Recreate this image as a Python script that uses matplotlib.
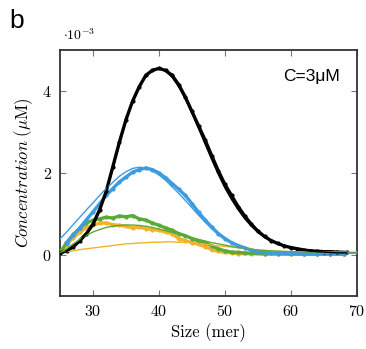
import matplotlib
matplotlib.use("Agg")
import matplotlib.pyplot as plt
import numpy as np

plt.rcParams['font.family'] = ['cmr10', 'DejaVu Serif']
plt.rcParams['mathtext.fontset'] = 'cm'
plt.rcParams['axes.formatter.use_mathtext'] = True

# ---- data (units of 1e-3 uM) ----
x_black = [25, 26, 27, 28, 29, 30, 31, 32, 33, 34, 35, 36, 37, 38, 39, 40, 41, 42, 43, 44,
           45, 46, 47, 48, 49, 50, 51, 52, 53, 54, 55, 56, 57, 58, 59, 60, 61, 62, 63, 64,
           65, 66, 67, 68.5]
y_black = [0.05, 0.1, 0.2, 0.35, 0.52, 0.75, 1.1, 1.55, 2.15, 2.75, 3.3, 3.75, 4.1, 4.38, 4.5, 4.55, 4.5, 4.38, 4.15, 3.85,
           3.5, 3.15, 2.8, 2.42, 2.05, 1.72, 1.45, 1.18, 0.95, 0.75, 0.58, 0.45, 0.35, 0.28, 0.22, 0.18, 0.15, 0.12, 0.1, 0.09,
           0.08, 0.08, 0.07, 0.06]
y_black_fit = [0.03, 0.08, 0.18, 0.33, 0.52, 0.78, 1.12, 1.55, 2.1, 2.7, 3.27, 3.75, 4.12, 4.38, 4.52, 4.55, 4.48, 4.33, 4.1, 3.8,
               3.45, 3.08, 2.7, 2.32, 1.96, 1.63, 1.35, 1.1, 0.88, 0.7, 0.55, 0.43, 0.34, 0.27, 0.21, 0.17, 0.14, 0.11, 0.09, 0.08,
               0.07, 0.06, 0.05, 0.05]

x_blue = [26, 27, 28, 29, 30, 31, 32, 33, 34, 35, 36, 37, 38, 39, 40, 41, 42, 43, 44,
          45, 46, 47, 48, 49, 50, 51, 52, 53, 54, 55, 56, 57, 58, 60, 62, 64, 66, 68]
y_blue = [0.3, 0.48, 0.66, 0.86, 1.05, 1.25, 1.45, 1.62, 1.78, 1.9, 2.02, 2.08, 2.12, 2.08, 2.0, 1.88, 1.74, 1.6, 1.45,
          1.25, 1.04, 0.85, 0.68, 0.52, 0.4, 0.3, 0.23, 0.17, 0.12, 0.08, 0.06, 0.05, 0.04, 0.04, 0.03, 0.03, 0.03, 0.03]
x_fit = [25, 26, 27, 28, 29, 30, 31, 32, 33, 34, 35, 36, 37, 38, 39, 40, 41, 42, 43, 44,
         45, 46, 47, 48, 49, 50, 51, 52, 53, 54, 55, 56, 57, 58, 60, 62, 64, 66, 68, 70]
y_blue_fit = [0.39, 0.56, 0.74, 0.92, 1.1, 1.27, 1.45, 1.62, 1.77, 1.92, 2.03, 2.11, 2.14, 2.12, 2.05, 1.95, 1.82, 1.66, 1.5, 1.33,
              1.15, 0.97, 0.8, 0.64, 0.5, 0.38, 0.29, 0.22, 0.16, 0.12, 0.09, 0.07, 0.06, 0.05, 0.05, 0.04, 0.04, 0.04, 0.04, 0.04]

x_green = [25, 26, 27, 28, 29, 30, 31, 32, 33, 34, 35, 36, 37, 38, 39, 40, 41, 42, 43, 44,
           45, 46, 47, 48, 49, 50, 51, 52, 53, 54, 56, 58, 60, 62, 64, 66, 68]
y_green = [0.05, 0.3, 0.5, 0.65, 0.78, 0.85, 0.88, 0.92, 0.9, 0.95, 0.93, 0.96, 0.88, 0.85, 0.78, 0.72, 0.66, 0.6, 0.52, 0.47,
           0.4, 0.34, 0.3, 0.22, 0.15, 0.1, 0.07, 0.06, 0.05, 0.04, 0.03, 0.03, 0.02, 0.02, 0.02, 0.02, 0.02]
y_green_fit = [0.05, 0.15, 0.27, 0.38, 0.48, 0.56, 0.62, 0.67, 0.7, 0.72, 0.73, 0.73, 0.72, 0.7, 0.67, 0.63, 0.59, 0.55, 0.5, 0.46,
               0.42, 0.38, 0.34, 0.3, 0.27, 0.24, 0.21, 0.18, 0.16, 0.14, 0.12, 0.11, 0.1, 0.09, 0.08, 0.07, 0.06, 0.06, 0.05, 0.05]

x_orange = [25, 26, 27, 28, 29, 30, 31, 32, 33, 34, 35, 36, 37, 38, 39, 40, 41, 42, 43, 44,
            45, 46, 47, 48, 49, 50, 51, 52, 54, 56, 58, 60, 62, 64, 66, 68]
y_orange = [0.08, 0.25, 0.42, 0.55, 0.67, 0.72, 0.78, 0.78, 0.74, 0.72, 0.7, 0.66, 0.68, 0.64, 0.62, 0.6, 0.56, 0.52, 0.4, 0.35,
            0.3, 0.26, 0.2, 0.13, 0.09, 0.06, 0.05, 0.03, 0.03, 0.02, 0.02, 0.02, 0.02, 0.02, 0.02, 0.02]
y_orange_fit = [0.05, 0.08, 0.1, 0.13, 0.15, 0.17, 0.19, 0.21, 0.23, 0.25, 0.27, 0.28, 0.29, 0.3, 0.31, 0.31, 0.32, 0.32, 0.31, 0.31,
                0.3, 0.28, 0.26, 0.24, 0.22, 0.21, 0.19, 0.18, 0.16, 0.14, 0.12, 0.11, 0.1, 0.09, 0.08, 0.08, 0.07, 0.07, 0.07, 0.07]

xticks = [30, 40, 50, 60, 70]
yticks = [0, 2, 4]

c_black = '#000000'
c_blue = '#3d9be0'
c_green = '#5aab35'
c_orange = '#f4b12e'

fig = plt.figure(figsize=(3.66, 3.49), dpi=100)
ax = fig.add_axes([0.164, 0.152, 0.811, 0.705])

def data_line(x, y, c):
    ax.plot(x, y, color=c, lw=2.4, marker='.', ms=4, zorder=3, solid_joinstyle='round')

data_line(x_orange, y_orange, c_orange)
data_line(x_green, y_green, c_green)
data_line(x_blue, y_blue, c_blue)
data_line(x_black, y_black, c_black)
ax.plot(x_fit, y_orange_fit, color=c_orange, lw=1.0, zorder=4)
ax.plot(x_fit, y_green_fit, color=c_green, lw=1.0, zorder=4)
ax.plot(x_fit, y_blue_fit, color=c_blue, lw=1.0, zorder=4)
ax.plot(x_black, y_black_fit, color=c_black, lw=1.0, zorder=4)

ax.set_xlim(25, 70)
ax.set_ylim(-1, 5)
ax.set_xticks(xticks)
ax.set_yticks(yticks)
ax.tick_params(direction='in', top=True, right=True, length=4, width=0.8, color='#777777',
               labelsize=11.5, pad=6)
for s in ax.spines.values():
    s.set_color('#333333')
    s.set_linewidth(1.3)

ax.set_xlabel('Size (mer)', fontsize=12, labelpad=3)
ax.set_ylabel(r'$\mathit{Concentration}\ (\mu\mathrm{M})$', fontsize=12, labelpad=5)
ax.text(0.01, 1.03, r'$\cdot 10^{-3}$', transform=ax.transAxes, fontsize=10, va='bottom', ha='left')
ax.text(0.943, 0.89, 'C=3μM', transform=ax.transAxes, fontsize=12.5, ha='right', va='center',
        family='Liberation Sans')
fig.text(0.025, 0.975, 'b', fontsize=19, ha='left', va='top', family='Liberation Sans')

fig.savefig('out.png', dpi=100)
